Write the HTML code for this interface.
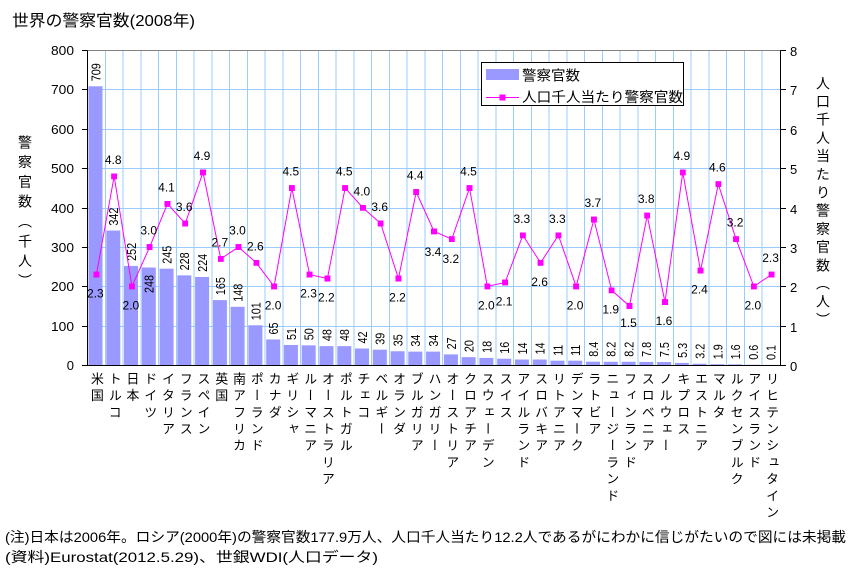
<!DOCTYPE html>
<html><head><meta charset="utf-8">
<style>
body{margin:0;background:#fff;}
#c{position:relative;width:861px;height:575px;background:#fff;overflow:hidden;}
svg{position:absolute;left:0;top:0;}
.v{position:absolute;top:371.5px;writing-mode:vertical-rl;font-family:"Liberation Sans","Noto Sans CJK JP",sans-serif;font-size:13px;line-height:13px;width:13px;letter-spacing:3.7px;color:#000;white-space:nowrap;}
.t{position:absolute;writing-mode:vertical-rl;font-family:"Liberation Sans","Noto Sans CJK JP",sans-serif;font-size:14px;line-height:14px;width:14px;letter-spacing:4.2px;color:#000;white-space:nowrap;}
</style></head>
<body>
<div id="c">
<svg width="861" height="575" viewBox="0 0 861 575" xmlns="http://www.w3.org/2000/svg" font-family="'Liberation Sans','Noto Sans CJK JP',sans-serif">
<defs>
<marker id="m" markerWidth="6" markerHeight="6" refX="3" refY="3" markerUnits="userSpaceOnUse"><rect width="6" height="6" fill="#ff00ff"/></marker>
</defs>
<text x="12" y="26" font-size="16" textLength="183" lengthAdjust="spacingAndGlyphs">世界の警察官数(2008年)</text>
<g stroke="#99ccff" stroke-width="1" shape-rendering="crispEdges" fill="none">
<path d="M87.5 326.5H780.5M87.5 286.5H780.5M87.5 247.5H780.5M87.5 208.5H780.5M87.5 168.5H780.5M87.5 129.5H780.5M87.5 89.5H780.5"/>
<path d="M105.26 50.5V365M123.01 50.5V365M140.77 50.5V365M158.52 50.5V365M176.28 50.5V365M194.04 50.5V365M211.79 50.5V365M229.55 50.5V365M247.3 50.5V365M265.06 50.5V365M282.82 50.5V365M300.57 50.5V365M318.33 50.5V365M336.08 50.5V365M353.84 50.5V365M371.6 50.5V365M389.35 50.5V365M407.11 50.5V365M424.86 50.5V365M442.62 50.5V365M460.38 50.5V365M478.13 50.5V365M495.89 50.5V365M513.64 50.5V365M531.4 50.5V365M549.16 50.5V365M566.91 50.5V365M584.67 50.5V365M602.42 50.5V365M620.18 50.5V365M637.94 50.5V365M655.69 50.5V365M673.45 50.5V365M691.2 50.5V365M708.96 50.5V365M726.72 50.5V365M744.47 50.5V365M762.23 50.5V365"/>
</g>
<path d="M87.5 50.5H780.5" stroke="#808080" stroke-width="1" shape-rendering="crispEdges"/>
<g fill="#9999ff">
<rect x="88.5" y="86.27" width="14" height="278.73"/>
<rect x="106.3" y="230.55" width="14" height="134.45"/>
<rect x="124.0" y="265.93" width="14" height="99.07"/>
<rect x="141.8" y="267.5" width="14" height="97.5"/>
<rect x="159.6" y="268.68" width="14" height="96.32"/>
<rect x="177.3" y="275.37" width="14" height="89.63"/>
<rect x="195.1" y="276.94" width="14" height="88.06"/>
<rect x="212.9" y="300.13" width="14" height="64.87"/>
<rect x="230.6" y="306.82" width="14" height="58.18"/>
<rect x="248.4" y="325.29" width="14" height="39.71"/>
<rect x="266.2" y="339.45" width="14" height="25.55"/>
<rect x="283.9" y="344.95" width="14" height="20.05"/>
<rect x="301.7" y="345.34" width="14" height="19.66"/>
<rect x="319.5" y="346.13" width="14" height="18.87"/>
<rect x="337.3" y="346.13" width="14" height="18.87"/>
<rect x="355.0" y="348.49" width="14" height="16.51"/>
<rect x="372.8" y="349.67" width="14" height="15.33"/>
<rect x="390.6" y="351.24" width="14" height="13.76"/>
<rect x="408.3" y="351.63" width="14" height="13.37"/>
<rect x="426.1" y="351.63" width="14" height="13.37"/>
<rect x="443.9" y="354.39" width="14" height="10.61"/>
<rect x="461.6" y="357.14" width="14" height="7.86"/>
<rect x="479.4" y="357.92" width="14" height="7.08"/>
<rect x="497.2" y="358.71" width="14" height="6.29"/>
<rect x="514.9" y="359.5" width="14" height="5.5"/>
<rect x="532.7" y="359.5" width="14" height="5.5"/>
<rect x="550.5" y="360.68" width="14" height="4.32"/>
<rect x="568.2" y="360.68" width="14" height="4.32"/>
<rect x="586.0" y="361.7" width="14" height="3.3"/>
<rect x="603.8" y="361.78" width="14" height="3.22"/>
<rect x="621.6" y="361.78" width="14" height="3.22"/>
<rect x="639.3" y="361.93" width="14" height="3.07"/>
<rect x="657.1" y="362.05" width="14" height="2.95"/>
<rect x="674.9" y="362.92" width="14" height="2.08"/>
<rect x="692.6" y="363.74" width="14" height="1.26"/>
<rect x="710.4" y="364.25" width="14" height="0.75"/>
<rect x="728.2" y="364.37" width="14" height="0.63"/>
<rect x="745.9" y="364.76" width="14" height="0.24"/>
<rect x="763.7" y="364.9" width="14" height="0.1"/>
</g>
<g stroke="#000" stroke-width="1" shape-rendering="crispEdges" fill="none">
<path d="M87.5 50.5V365.5M780.5 50.5V365.5M87.5 365.5H786"/>
<path d="M82 50.5H87.5M82 89.5H87.5M82 129.5H87.5M82 168.5H87.5M82 208.5H87.5M82 247.5H87.5M82 286.5H87.5M82 326.5H87.5M82 365.5H87.5"/>
<path d="M780.5 50.5H786M780.5 89.5H786M780.5 129.5H786M780.5 168.5H786M780.5 208.5H786M780.5 247.5H786M780.5 286.5H786M780.5 326.5H786M780.5 365.5H786"/>
</g>
<g font-size="13" text-anchor="end" fill="#000">
<text x="74" y="55" textLength="23" lengthAdjust="spacingAndGlyphs">800</text>
<text x="74" y="94" textLength="23" lengthAdjust="spacingAndGlyphs">700</text>
<text x="74" y="134" textLength="23" lengthAdjust="spacingAndGlyphs">600</text>
<text x="74" y="173" textLength="23" lengthAdjust="spacingAndGlyphs">500</text>
<text x="74" y="213" textLength="23" lengthAdjust="spacingAndGlyphs">400</text>
<text x="74" y="252" textLength="23" lengthAdjust="spacingAndGlyphs">300</text>
<text x="74" y="291" textLength="23" lengthAdjust="spacingAndGlyphs">200</text>
<text x="74" y="331" textLength="23" lengthAdjust="spacingAndGlyphs">100</text>
<text x="74" y="370">0</text>
</g>
<g font-size="13" fill="#000">
<text x="790" y="56">8</text>
<text x="790" y="95">7</text>
<text x="790" y="135">6</text>
<text x="790" y="174">5</text>
<text x="790" y="214">4</text>
<text x="790" y="253">3</text>
<text x="790" y="292">2</text>
<text x="790" y="332">1</text>
<text x="790" y="371">0</text>
</g>
<g font-size="13" fill="#000">
<text transform="translate(100.4,81.3) rotate(-90)" textLength="18" lengthAdjust="spacingAndGlyphs">709</text>
<text transform="translate(118.2,225.6) rotate(-90)" textLength="18" lengthAdjust="spacingAndGlyphs">342</text>
<text transform="translate(135.9,260.9) rotate(-90)" textLength="18" lengthAdjust="spacingAndGlyphs">252</text>
<text transform="translate(153.7,293) rotate(-90)" textLength="18" lengthAdjust="spacingAndGlyphs">248</text>
<text transform="translate(171.5,263.7) rotate(-90)" textLength="18" lengthAdjust="spacingAndGlyphs">245</text>
<text transform="translate(189.2,270.4) rotate(-90)" textLength="18" lengthAdjust="spacingAndGlyphs">228</text>
<text transform="translate(207.0,271.9) rotate(-90)" textLength="18" lengthAdjust="spacingAndGlyphs">224</text>
<text transform="translate(224.8,295.1) rotate(-90)" textLength="18" lengthAdjust="spacingAndGlyphs">165</text>
<text transform="translate(242.5,301.8) rotate(-90)" textLength="18" lengthAdjust="spacingAndGlyphs">148</text>
<text transform="translate(260.3,320.3) rotate(-90)" textLength="18" lengthAdjust="spacingAndGlyphs">101</text>
<text transform="translate(278.1,334.5) rotate(-90)" textLength="12" lengthAdjust="spacingAndGlyphs">65</text>
<text transform="translate(295.8,340.0) rotate(-90)" textLength="12" lengthAdjust="spacingAndGlyphs">51</text>
<text transform="translate(313.6,340.3) rotate(-90)" textLength="12" lengthAdjust="spacingAndGlyphs">50</text>
<text transform="translate(331.4,341.1) rotate(-90)" textLength="12" lengthAdjust="spacingAndGlyphs">48</text>
<text transform="translate(349.2,341.1) rotate(-90)" textLength="12" lengthAdjust="spacingAndGlyphs">48</text>
<text transform="translate(366.9,343.5) rotate(-90)" textLength="12" lengthAdjust="spacingAndGlyphs">42</text>
<text transform="translate(384.7,344.7) rotate(-90)" textLength="12" lengthAdjust="spacingAndGlyphs">39</text>
<text transform="translate(402.5,346.2) rotate(-90)" textLength="12" lengthAdjust="spacingAndGlyphs">35</text>
<text transform="translate(420.2,346.6) rotate(-90)" textLength="12" lengthAdjust="spacingAndGlyphs">34</text>
<text transform="translate(438.0,346.6) rotate(-90)" textLength="12" lengthAdjust="spacingAndGlyphs">34</text>
<text transform="translate(455.8,349.4) rotate(-90)" textLength="12" lengthAdjust="spacingAndGlyphs">27</text>
<text transform="translate(473.5,352.1) rotate(-90)" textLength="12" lengthAdjust="spacingAndGlyphs">20</text>
<text transform="translate(491.3,352.9) rotate(-90)" textLength="12" lengthAdjust="spacingAndGlyphs">18</text>
<text transform="translate(509.1,353.7) rotate(-90)" textLength="12" lengthAdjust="spacingAndGlyphs">16</text>
<text transform="translate(526.8,354.5) rotate(-90)" textLength="12" lengthAdjust="spacingAndGlyphs">14</text>
<text transform="translate(544.6,354.5) rotate(-90)" textLength="12" lengthAdjust="spacingAndGlyphs">14</text>
<text transform="translate(562.4,355.7) rotate(-90)" textLength="11" lengthAdjust="spacingAndGlyphs">11</text>
<text transform="translate(580.1,355.7) rotate(-90)" textLength="11" lengthAdjust="spacingAndGlyphs">11</text>
<text transform="translate(597.9,356.7) rotate(-90)" textLength="15" lengthAdjust="spacingAndGlyphs">8.4</text>
<text transform="translate(615.7,356.8) rotate(-90)" textLength="15" lengthAdjust="spacingAndGlyphs">8.2</text>
<text transform="translate(633.5,356.8) rotate(-90)" textLength="15" lengthAdjust="spacingAndGlyphs">8.2</text>
<text transform="translate(651.2,356.9) rotate(-90)" textLength="15" lengthAdjust="spacingAndGlyphs">7.8</text>
<text transform="translate(669.0,357.1) rotate(-90)" textLength="15" lengthAdjust="spacingAndGlyphs">7.5</text>
<text transform="translate(686.8,357.9) rotate(-90)" textLength="15" lengthAdjust="spacingAndGlyphs">5.3</text>
<text transform="translate(704.5,358.7) rotate(-90)" textLength="15" lengthAdjust="spacingAndGlyphs">3.2</text>
<text transform="translate(722.3,359.3) rotate(-90)" textLength="15" lengthAdjust="spacingAndGlyphs">1.9</text>
<text transform="translate(740.1,359.4) rotate(-90)" textLength="15" lengthAdjust="spacingAndGlyphs">1.6</text>
<text transform="translate(757.8,359.8) rotate(-90)" textLength="15" lengthAdjust="spacingAndGlyphs">0.6</text>
<text transform="translate(775.6,360.0) rotate(-90)" textLength="15" lengthAdjust="spacingAndGlyphs">0.1</text>
</g>
<polyline fill="none" stroke="#ff00ff" stroke-width="1" marker-start="url(#m)" marker-mid="url(#m)" marker-end="url(#m)" points="96.38,274.58 114.15,176.3 131.92,286.38 149.69,247.06 167.46,203.82 185.23,223.48 203,172.37 220.76,258.86 238.53,247.06 256.3,262.79 274.07,286.38 291.84,188.09 309.61,274.58 327.38,278.51 345.15,188.09 362.92,207.75 380.69,223.48 398.45,278.51 416.22,192.03 433.99,231.34 451.76,239.2 469.53,188.09 487.3,286.38 505.07,282.44 522.84,235.27 540.61,262.79 558.38,235.27 576.14,286.38 593.91,219.54 611.68,290.31 629.45,306.03 647.22,215.61 664.99,302.1 682.76,172.37 700.53,270.65 718.3,184.16 736.07,239.2 753.83,286.38 771.6,274.58"/>
<g font-size="12" text-anchor="middle" fill="#000">
<text x="95.4" y="297.6">2.3</text>
<text x="113.2" y="163.8">4.8</text>
<text x="130.9" y="309.4">2.0</text>
<text x="148.7" y="234.6">3.0</text>
<text x="166.5" y="191.3">4.1</text>
<text x="184.2" y="211">3.6</text>
<text x="202" y="159.9">4.9</text>
<text x="219.8" y="246.4">2.7</text>
<text x="237.5" y="234.6">3.0</text>
<text x="255.3" y="250.3">2.6</text>
<text x="273.1" y="309.4">2.0</text>
<text x="290.8" y="175.6">4.5</text>
<text x="308.6" y="297.6">2.3</text>
<text x="326.4" y="301.5">2.2</text>
<text x="344.2" y="175.6">4.5</text>
<text x="361.9" y="195.3">4.0</text>
<text x="379.7" y="211">3.6</text>
<text x="397.5" y="301.5">2.2</text>
<text x="415.2" y="179.5">4.4</text>
<text x="433" y="256">3.4</text>
<text x="450.8" y="263">3.2</text>
<text x="468.5" y="175.6">4.5</text>
<text x="486.3" y="309.4">2.0</text>
<text x="504.1" y="305.4">2.1</text>
<text x="521.8" y="222.8">3.3</text>
<text x="539.6" y="285.8">2.6</text>
<text x="557.4" y="222.8">3.3</text>
<text x="575.1" y="309.4">2.0</text>
<text x="592.9" y="207">3.7</text>
<text x="610.7" y="313.3">1.9</text>
<text x="628.5" y="327">1.5</text>
<text x="646.2" y="203.1">3.8</text>
<text x="664" y="325.1">1.6</text>
<text x="681.8" y="159.9">4.9</text>
<text x="699.5" y="293.7">2.4</text>
<text x="717.3" y="171.7">4.6</text>
<text x="735.1" y="226.7">3.2</text>
<text x="752.8" y="309.4">2.0</text>
<text x="770.6" y="262.1">2.3</text>
</g>
<rect x="481.5" y="62.5" width="202" height="43" fill="#fff" stroke="#000" stroke-width="1" shape-rendering="crispEdges"/>
<rect x="486" y="69" width="33" height="11" fill="#9999ff"/>
<text x="522" y="80.5" font-size="14" textLength="58" lengthAdjust="spacingAndGlyphs">警察官数</text>
<path d="M486 97.5H519" stroke="#ff00ff" stroke-width="1"/>
<rect x="499.5" y="94.5" width="6" height="6" fill="#ff00ff"/>
<text x="522" y="102" font-size="14" textLength="161" lengthAdjust="spacingAndGlyphs">人口千人当たり警察官数</text>
<text x="5" y="542" font-size="14" textLength="841" lengthAdjust="spacingAndGlyphs">(注)日本は2006年。ロシア(2000年)の警察官数177.9万人、人口千人当たり12.2人であるがにわかに信じがたいので図には未掲載</text>
<text x="5" y="562" font-size="14" textLength="373" lengthAdjust="spacingAndGlyphs">(資料)Eurostat(2012.5.29)、世銀WDI(人口データ)</text>
</svg>
<div class="t" style="left:18px;top:135px;letter-spacing:5.8px;">警察官数（千人）</div>
<div class="t" style="left:816px;top:76px;">人口千人当たり警察官数（人）</div>
<div class="v" style="left:89.9px">米国</div>
<div class="v" style="left:107.7px">トルコ</div>
<div class="v" style="left:125.4px">日本</div>
<div class="v" style="left:143.2px">ドイツ</div>
<div class="v" style="left:161px">イタリア</div>
<div class="v" style="left:178.7px">フランス</div>
<div class="v" style="left:196.5px">スペイン</div>
<div class="v" style="left:214.3px">英国</div>
<div class="v" style="left:232px">南アフリカ</div>
<div class="v" style="left:249.8px">ポーランド</div>
<div class="v" style="left:267.6px">カナダ</div>
<div class="v" style="left:285.3px">ギリシャ</div>
<div class="v" style="left:303.1px">ルーマニア</div>
<div class="v" style="left:320.9px">オーストラリア</div>
<div class="v" style="left:338.7px">ポルトガル</div>
<div class="v" style="left:356.4px">チェコ</div>
<div class="v" style="left:374.2px">ベルギー</div>
<div class="v" style="left:392px">オランダ</div>
<div class="v" style="left:409.7px">ブルガリア</div>
<div class="v" style="left:427.5px">ハンガリー</div>
<div class="v" style="left:445.3px">オーストリア</div>
<div class="v" style="left:463px">クロアチア</div>
<div class="v" style="left:480.8px">スウェーデン</div>
<div class="v" style="left:498.6px">スイス</div>
<div class="v" style="left:516.3px">アイルランド</div>
<div class="v" style="left:534.1px">スロバキア</div>
<div class="v" style="left:551.9px">リトアニア</div>
<div class="v" style="left:569.6px">デンマーク</div>
<div class="v" style="left:587.4px">ラトビア</div>
<div class="v" style="left:605.2px">ニュージーランド</div>
<div class="v" style="left:623px">フィンランド</div>
<div class="v" style="left:640.7px">スロベニア</div>
<div class="v" style="left:658.5px">ノルウェー</div>
<div class="v" style="left:676.3px">キプロス</div>
<div class="v" style="left:694px">エストニア</div>
<div class="v" style="left:711.8px">マルタ</div>
<div class="v" style="left:729.6px">ルクセンブルク</div>
<div class="v" style="left:747.3px">アイスランド</div>
<div class="v" style="left:765.1px">リヒテンシュタイン</div>
</div>
</body></html>
